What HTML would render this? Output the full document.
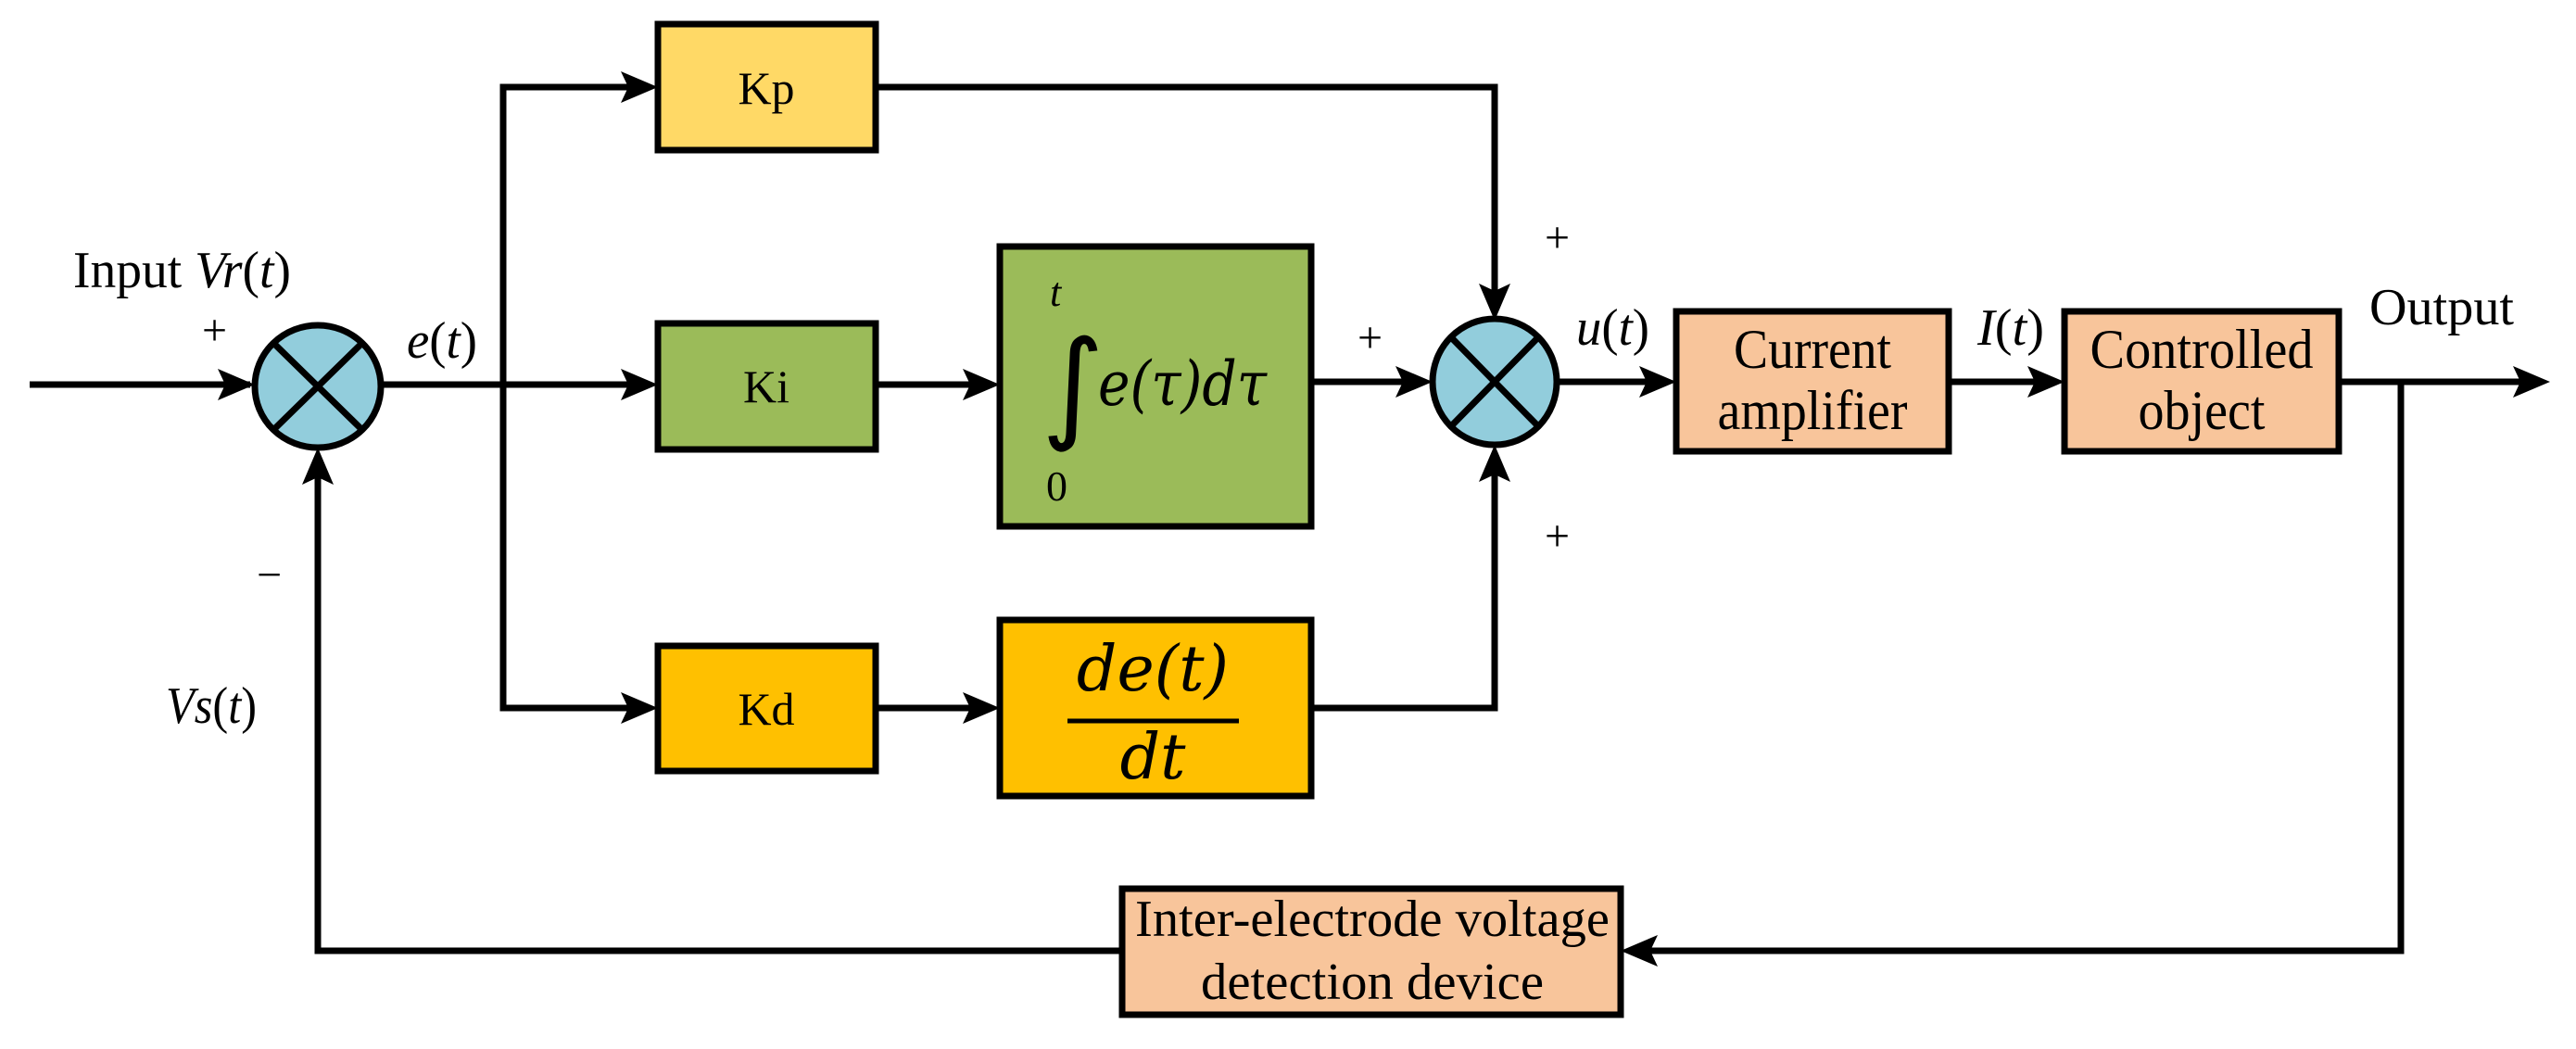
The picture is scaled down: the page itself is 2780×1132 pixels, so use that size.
<!DOCTYPE html>
<html><head><meta charset="utf-8"><style>
html,body{margin:0;padding:0;background:#fff;}
svg{display:block;}
text{font-family:"Liberation Serif",serif;fill:#000;}
.m{font-family:"DejaVu Serif","Liberation Serif",serif;font-style:italic;}
</style></head><body>
<svg width="2780" height="1132" viewBox="0 0 2780 1132" xmlns="http://www.w3.org/2000/svg">
<g stroke="#000" stroke-width="7" fill="none" stroke-linejoin="miter">
<line x1="32" y1="415" x2="270" y2="415"/>
<line x1="411" y1="415" x2="700" y2="415"/>
<polyline points="543,415 543,94 700,94"/>
<polyline points="543,415 543,764 700,764"/>
<line x1="945" y1="415" x2="1070" y2="415"/>
<line x1="945" y1="764" x2="1070" y2="764"/>
<line x1="1415" y1="412" x2="1538" y2="412"/>
<polyline points="945,94 1613,94 1613,338"/>
<polyline points="1415,764 1613,764 1613,488"/>
<line x1="1680" y1="412" x2="1800" y2="412"/>
<line x1="2103" y1="412" x2="2220" y2="412"/>
<line x1="2524" y1="412" x2="2740" y2="412"/>
<polyline points="2591,412 2591,1026 1758,1026"/>
<polyline points="1211,1026 343,1026 343,492"/>
</g>
<g fill="#000">
<polygon points="275,415 235,398 243,415 235,432"/>
<polygon points="710,94 670,77 678,94 670,111"/>
<polygon points="710,415 670,398 678,415 670,432"/>
<polygon points="710,764 670,747 678,764 670,781"/>
<polygon points="1079,415 1039,398 1047,415 1039,432"/>
<polygon points="1079,764 1039,747 1047,764 1039,781"/>
<polygon points="1546,412 1506,395 1514,412 1506,429"/>
<polygon points="1613,346 1596,306 1613,314 1630,306"/>
<polygon points="1613,480 1596,520 1613,512 1630,520"/>
<polygon points="1809,412 1769,395 1777,412 1769,429"/>
<polygon points="2228,412 2188,395 2196,412 2188,429"/>
<polygon points="2752,412 2712,395 2720,412 2712,429"/>
<polygon points="1749,1026 1789,1009 1781,1026 1789,1043"/>
<polygon points="343,483 326,523 343,515 360,523"/>
</g>
<g stroke="#000" stroke-width="7">
<rect x="710" y="26" width="235" height="136" fill="#FFD966"/>
<rect x="710" y="349" width="235" height="136" fill="#9BBB59"/>
<rect x="710" y="697" width="235" height="135" fill="#FFC000"/>
<rect x="1079" y="266" width="336" height="302" fill="#9BBB59"/>
<rect x="1079" y="669" width="336" height="190" fill="#FFC000"/>
<rect x="1809" y="336" width="294" height="151" fill="#F8C59B"/>
<rect x="2228" y="336" width="296" height="151" fill="#F8C59B"/>
<rect x="1211" y="959" width="538" height="136" fill="#F8C59B"/>
<ellipse cx="343" cy="417" rx="68" ry="66" fill="#92CDDC"/>
<ellipse cx="1613" cy="412" rx="67" ry="68" fill="#92CDDC"/>
<line x1="295" y1="370" x2="391" y2="464"/>
<line x1="391" y1="370" x2="295" y2="464"/>
<line x1="1566" y1="364" x2="1660" y2="460"/>
<line x1="1660" y1="364" x2="1566" y2="460"/>
</g>
<line x1="1152" y1="778" x2="1337" y2="778" stroke="#000" stroke-width="5"/>
<g font-size="50" text-anchor="middle">
<text x="827" y="112">Kp</text>
<text x="827" y="434">Ki</text>
<text x="827" y="782">Kd</text>
<text x="1956" y="397" font-size="60" textLength="170" lengthAdjust="spacingAndGlyphs">Current</text>
<text x="1956" y="463" font-size="60" textLength="205" lengthAdjust="spacingAndGlyphs">amplifier</text>
<text x="2376" y="397" font-size="60" textLength="241" lengthAdjust="spacingAndGlyphs">Controlled</text>
<text x="2376" y="463" font-size="60" textLength="137" lengthAdjust="spacingAndGlyphs">object</text>
<text x="1481" y="1010" font-size="56" textLength="512" lengthAdjust="spacingAndGlyphs">Inter-electrode voltage</text>
<text x="1481" y="1078" font-size="56" textLength="370" lengthAdjust="spacingAndGlyphs">detection device</text>
</g>
<g font-size="56">
<text x="79" y="310" textLength="235" lengthAdjust="spacingAndGlyphs">Input <tspan font-style="italic">Vr</tspan>(<tspan font-style="italic">t</tspan>)</text>
<text x="439" y="386" textLength="76" lengthAdjust="spacingAndGlyphs"><tspan font-style="italic">e</tspan>(<tspan font-style="italic">t</tspan>)</text>
<text x="179" y="780" textLength="98" lengthAdjust="spacingAndGlyphs"><tspan font-style="italic">Vs</tspan>(<tspan font-style="italic">t</tspan>)</text>
<text x="1701" y="372" textLength="79" lengthAdjust="spacingAndGlyphs"><tspan font-style="italic">u</tspan>(<tspan font-style="italic">t</tspan>)</text>
<text x="2134" y="372" textLength="72" lengthAdjust="spacingAndGlyphs"><tspan font-style="italic">I</tspan>(<tspan font-style="italic">t</tspan>)</text>
<text x="2557" y="350" textLength="156" lengthAdjust="spacingAndGlyphs">Output</text>
<text x="218" y="372" font-size="48">+</text>
<text x="277" y="636" font-size="48">−</text>
<text x="1667" y="272" font-size="48">+</text>
<text x="1465" y="380" font-size="48">+</text>
<text x="1667" y="594" font-size="48">+</text>
<text x="1133" y="330" font-size="44" font-style="italic">t</text>
<text x="1129" y="540" font-size="46">0</text>
</g>
<text x="1124" y="460" font-size="130" style="font-family:'DejaVu Sans',sans-serif">∫</text>
<text x="1185" y="437" font-size="66" class="m" textLength="182" lengthAdjust="spacingAndGlyphs">e(τ)dτ</text>
<text x="1244" y="745" font-size="68" class="m" text-anchor="middle">de(t)</text>
<text x="1244" y="840" font-size="68" class="m" text-anchor="middle">dt</text>
</svg>
</body></html>
